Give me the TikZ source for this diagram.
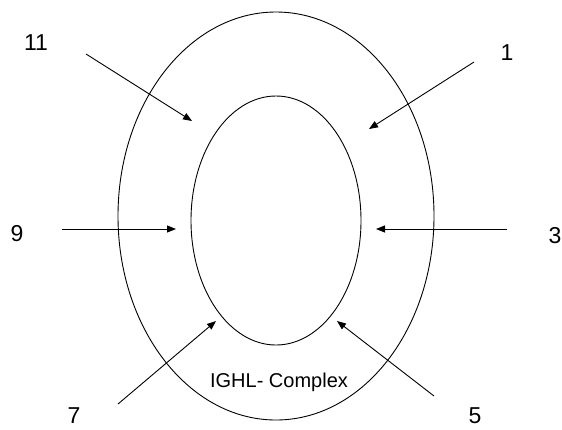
\documentclass[tikz,border=0pt]{standalone}
\usepackage{fontspec}
\setmainfont{Liberation Sans}
\usetikzlibrary{arrows.meta}
\begin{document}
\begin{tikzpicture}[x=1pt,y=-1pt,
  ring/.style={draw=black,line width=0.9pt},
  pointer/.style={draw=black,line width=0.9pt,-{Triangle[length=9pt,width=7pt]}},
  lbl/.style={inner sep=0pt,font=\fontsize{23}{27}\selectfont},
  title/.style={inner sep=0pt,font=\fontsize{20}{24}\selectfont}]
\useasboundingbox[fill=white] (0,0) rectangle (562,429);
% ellipses
\draw[ring] (276,216) ellipse [x radius=158pt, y radius=204pt];
\draw[ring] (276,220.5) ellipse [x radius=85pt, y radius=124.5pt];
% labels
\node[lbl] (l11) at (36,43) {11};
\node[lbl] (l1) at (507,53) {1};
\node[lbl] (l9) at (17,234) {9};
\node[lbl] (l3) at (555,236) {3};
\node[lbl] (l7) at (74,416) {7};
\node[lbl] (l5) at (475,416) {5};
\node[title,anchor=base] (cx) at (279,387) {IGHL- Complex};
% arrow coordinates
\coordinate (s11) at (86,54);   \coordinate (t11) at (192,121);
\coordinate (s1) at (474,62);   \coordinate (t1) at (369,129);
\coordinate (s9) at (62,229);   \coordinate (t9) at (176,229);
\coordinate (s3) at (507,229);  \coordinate (t3) at (376,229);
\coordinate (s7) at (118,404);  \coordinate (t7) at (216,321);
\coordinate (s5) at (434,396);  \coordinate (t5) at (337,321);
\draw[pointer] (s11) -- (t11);
\draw[pointer] (s1) -- (t1);
\draw[pointer] (s9) -- (t9);
\draw[pointer] (s3) -- (t3);
\draw[pointer] (s7) -- (t7);
\draw[pointer] (s5) -- (t5);
\end{tikzpicture}
\end{document}
